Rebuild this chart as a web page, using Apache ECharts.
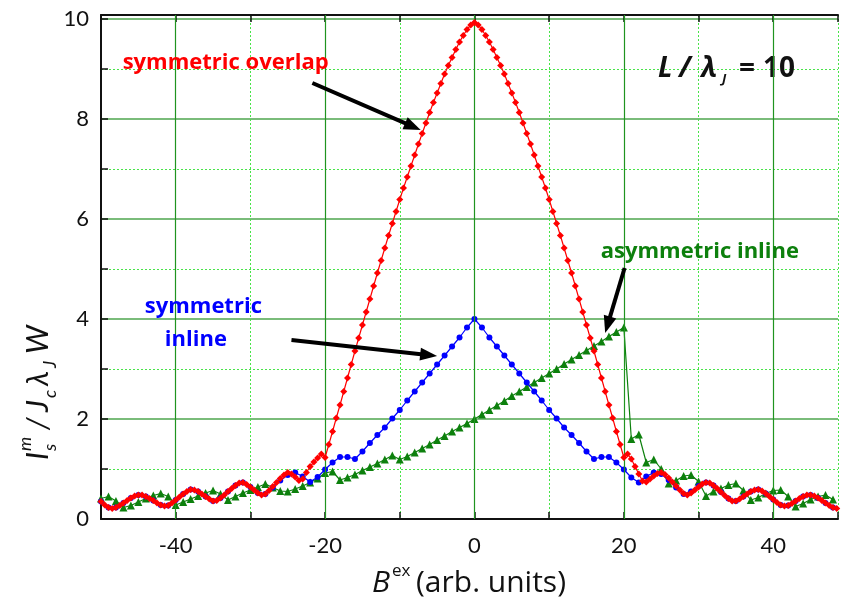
<!DOCTYPE html>
<html>
<head>
<meta charset="utf-8">
<script src="https://cdn.jsdelivr.net/npm/echarts@6/dist/echarts.min.js"></script>
<style>
  html, body { margin: 0; padding: 0; background: #fff; }
  #chart { width: 841px; height: 601px; }
</style>
</head>
<body>
<div id="chart"></div>
<script>
// x sampling of each curve
const redX0 = -50, redStep = 0.5;   // symmetric overlap
const dotX0 = -50, dotStep = 1;     // symmetric inline / asymmetric inline

// symmetric overlap, x = -50 ... 48.5
const redY = [
  0.35, 0.28, 0.23, 0.21, 0.23, 0.27, 0.32, 0.37, 0.42, 0.46,
  0.48, 0.48, 0.45, 0.41, 0.37, 0.32, 0.28, 0.26, 0.27, 0.32,
  0.38, 0.44, 0.50, 0.55, 0.59, 0.58, 0.55, 0.50, 0.45, 0.40,
  0.36, 0.37, 0.42, 0.48, 0.55, 0.61, 0.67, 0.72, 0.73, 0.69,
  0.64, 0.58, 0.52, 0.48, 0.50, 0.57, 0.65, 0.73, 0.81, 0.88,
  0.93, 0.90, 0.84, 0.77, 0.80, 0.93, 1.05, 1.14, 1.22, 1.30,
  1.23, 1.49, 1.75, 2.02, 2.28, 2.55, 2.82, 3.09, 3.36, 3.62,
  3.88, 4.14, 4.40, 4.66, 4.92, 5.17, 5.42, 5.67, 5.91, 6.15,
  6.39, 6.62, 6.84, 7.06, 7.28, 7.50, 7.71, 7.92, 8.13, 8.33,
  8.52, 8.71, 8.90, 9.07, 9.23, 9.39, 9.54, 9.67, 9.79, 9.88,
  9.93,
  9.88, 9.79, 9.67, 9.54, 9.39, 9.23, 9.07, 8.90, 8.71, 8.52,
  8.33, 8.13, 7.92, 7.71, 7.50, 7.28, 7.06, 6.84, 6.62, 6.39,
  6.15, 5.91, 5.67, 5.42, 5.17, 4.92, 4.66, 4.40, 4.14, 3.88,
  3.62, 3.36, 3.09, 2.82, 2.55, 2.28, 2.02, 1.75, 1.49, 1.23,
  1.30, 1.20, 1.05, 0.90, 0.76, 0.74, 0.80, 0.86, 0.91, 0.93,
  0.89, 0.82, 0.74, 0.66, 0.58, 0.51, 0.48, 0.52, 0.58, 0.64,
  0.70, 0.73, 0.72, 0.67, 0.61, 0.54, 0.47, 0.41, 0.36, 0.36,
  0.40, 0.45, 0.50, 0.55, 0.58, 0.59, 0.56, 0.51, 0.45, 0.39,
  0.33, 0.28, 0.26, 0.27, 0.31, 0.36, 0.41, 0.45, 0.48, 0.48,
  0.46, 0.42, 0.37, 0.32, 0.27, 0.23, 0.21
];

// symmetric inline, x = -50 ... 48
const blueY = [
  0.35, 0.23, 0.23, 0.32, 0.42, 0.48, 0.45, 0.37, 0.28, 0.27,
  0.38, 0.50, 0.59, 0.55, 0.45, 0.36, 0.42, 0.55, 0.67, 0.73,
  0.64, 0.52, 0.50, 0.63, 0.77, 0.88, 0.93, 0.85, 0.74, 0.84,
  0.99, 1.13, 1.24, 1.24, 1.20, 1.35, 1.52, 1.68, 1.83, 2.01,
  2.18, 2.37, 2.55, 2.73, 2.91, 3.09, 3.27, 3.45, 3.63, 3.83,
  4.00,
  3.83, 3.63, 3.45, 3.27, 3.09, 2.91, 2.73, 2.55, 2.37, 2.18,
  2.01, 1.83, 1.68, 1.52, 1.35, 1.20, 1.24, 1.24, 1.13, 0.99,
  0.83, 0.73, 0.85, 0.93, 0.90, 0.78, 0.63, 0.50, 0.55, 0.66,
  0.73, 0.67, 0.54, 0.41, 0.36, 0.45, 0.55, 0.59, 0.51, 0.39,
  0.28, 0.27, 0.36, 0.45, 0.48, 0.42, 0.32, 0.23
];

// asymmetric inline, x = -50 ... 48
const greenY = [
  0.41, 0.45, 0.36, 0.23, 0.27, 0.34, 0.41, 0.47, 0.51, 0.45,
  0.28, 0.34, 0.40, 0.46, 0.52, 0.57, 0.50, 0.38, 0.45, 0.52,
  0.58, 0.64, 0.70, 0.63, 0.56, 0.55, 0.60, 0.66, 0.73, 0.81,
  0.92, 0.95, 0.78, 0.83, 0.89, 0.97, 1.04, 1.11, 1.19, 1.27,
  1.19, 1.25, 1.33, 1.41, 1.49, 1.58, 1.66, 1.75, 1.83, 1.91,
  2.00,
  2.09, 2.18, 2.27, 2.36, 2.46, 2.55, 2.64, 2.73, 2.82, 2.91,
  3.00, 3.10, 3.19, 3.28, 3.37, 3.46, 3.55, 3.65, 3.74, 3.83,
  1.60, 1.69, 1.13, 1.19, 1.00, 0.71, 0.77, 0.86, 0.88, 0.75,
  0.46, 0.55, 0.61, 0.68, 0.71, 0.57, 0.38, 0.43, 0.51, 0.57,
  0.58, 0.45, 0.25, 0.31, 0.39, 0.45, 0.48, 0.39
];

const xMajorTicks = [-40, -20, 0, 20, 40];

const FONT = 'Lato';
const NOTE_FONT = "'Open Sans'";
const toPairs = (x0, step, ys) => ys.map((y, i) => [x0 + i * step, y]);

const minorGrid = { color: '#48e448', type: [2, 2], width: 1 };

const chart = echarts.init(document.getElementById('chart'));

const option = {
  animation: false,
  backgroundColor: '#fff',
  grid: { left: 101, top: 15, right: 0, bottom: 82 },
  xAxis: [
    {
      type: 'value',
      min: -50,
      max: 48.67,
      interval: 10,
      position: 'bottom',
      axisLine: { onZero: false, lineStyle: { color: '#111', width: 2 } },
      axisTick: { inside: true, length: 7, lineStyle: { color: '#111', width: 1.5 } },
      axisLabel: {
        formatter: (v) => (v % 20 === 0 ? String(v) : ''),
        fontSize: 22, color: '#111', fontFamily: FONT, margin: 16
      },
      splitLine: { show: true, lineStyle: minorGrid }
    },
    {
      type: 'value',
      min: -50,
      max: 48.67,
      interval: 10,
      position: 'top',
      axisLine: { onZero: false, lineStyle: { color: '#111', width: 2 } },
      axisTick: { inside: true, length: 7, lineStyle: { color: '#111', width: 1.5 } },
      axisLabel: { show: false },
      splitLine: { show: false }
    }
  ],
  yAxis: {
    type: 'value',
    min: 0,
    max: 10.08,
    interval: 2,
    axisLine: { show: true, onZero: false, lineStyle: { color: '#111', width: 2 } },
    axisTick: { show: true, inside: true, length: 7, lineStyle: { color: '#111', width: 1.5 } },
    minorTick: { show: true, splitNumber: 2, length: 7, lineStyle: { color: '#111', width: 1.5 } },
    axisLabel: { fontSize: 22, color: '#111', fontFamily: FONT, margin: 12 },
    splitLine: { show: true, lineStyle: { color: '#4ea64e', width: 1.5 } },
    minorSplitLine: { show: true, lineStyle: minorGrid }
  },
  series: [
    {
      // solid major grid on the x axis
      type: 'line',
      data: [],
      z: 1,
      silent: true,
      markLine: {
        silent: true,
        symbol: 'none',
        label: { show: false },
        lineStyle: { color: '#209420', type: 'solid', width: 1.2 },
        data: xMajorTicks.map((v) => ({ xAxis: v }))
      }
    },
    {
      name: 'asymmetric inline',
      type: 'line',
      z: 3,
      data: toPairs(dotX0, dotStep, greenY),
      symbol: 'triangle',
      symbolSize: 8,
      itemStyle: { color: '#0d800d' },
      lineStyle: { color: '#0d800d', width: 1.2 }
    },
    {
      name: 'symmetric inline',
      type: 'line',
      z: 4,
      data: toPairs(dotX0, dotStep, blueY),
      symbol: 'circle',
      symbolSize: 6,
      itemStyle: { color: '#0000ff' },
      lineStyle: { color: '#0000ff', width: 1.2 }
    },
    {
      name: 'symmetric overlap',
      type: 'line',
      z: 5,
      data: toPairs(redX0, redStep, redY),
      symbol: 'diamond',
      symbolSize: 7,
      itemStyle: { color: '#ff0000' },
      lineStyle: { color: '#ff0000', width: 1.2 }
    }
  ]
};

chart.setOption(option);

// annotations placed from data coordinates
const px = (x, y) => chart.convertToPixel({ gridIndex: 0 }, [x, y]);

function arrow(from, to) {
  const a = px(from[0], from[1]);
  const b = px(to[0], to[1]);
  const dx = b[0] - a[0], dy = b[1] - a[1];
  const len = Math.sqrt(dx * dx + dy * dy);
  const ux = dx / len, uy = dy / len;
  const head = 17, half = 6.5;
  const bx = b[0] - ux * head, by = b[1] - uy * head;
  return [
    {
      type: 'line', z: 50,
      shape: { x1: a[0], y1: a[1], x2: bx + ux * 3, y2: by + uy * 3 },
      style: { stroke: '#000', lineWidth: 4 }
    },
    {
      type: 'polygon', z: 50,
      shape: { points: [[b[0], b[1]], [bx - uy * half, by + ux * half], [bx + uy * half, by - ux * half]] },
      style: { fill: '#000' }
    }
  ];
}

function label(x, y, text, color, size, align) {
  const p = px(x, y);
  return {
    type: 'text', z: 60, x: p[0], y: p[1],
    style: {
      text: text, fill: color, font: 'bold ' + size + 'px ' + NOTE_FONT,
      align: align, verticalAlign: 'middle'
    }
  };
}

const piece = (t, x, y, font) => ({
  type: 'text', x: x, y: y,
  style: { text: t, fill: '#111', font: font, verticalAlign: 'middle' }
});

const graphic = [].concat(
  arrow([-21.7, 8.72], [-7.2, 7.78]),
  arrow([-24.5, 3.58], [-5.0, 3.26]),
  arrow([20.1, 5.02], [17.5, 3.72]),
  [
    label(-47.1, 9.12, 'symmetric overlap', '#ff0000', 22, 'left'),
    label(-36.3, 4.24, 'symmetric', '#0000ff', 22, 'center'),
    label(-37.3, 3.58, 'inline', '#0000ff', 22, 'center'),
    label(16.9, 5.34, 'asymmetric inline', '#0d800d', 22, 'left'),
    // L / lambda_J = 10
    {
      type: 'group', z: 60, x: 658, y: 69,
      children: [
        piece('L', 0, 0, 'italic bold 28px ' + NOTE_FONT),
        piece('/', 21, 0, 'italic bold 28px ' + NOTE_FONT),
        piece('λ', 43, 0, 'italic bold 28px ' + NOTE_FONT),
        piece('J', 64, 10, 'italic bold 13px ' + NOTE_FONT),
        piece('=', 81, 0, 'bold 28px ' + NOTE_FONT),
        piece('10', 105, 0, 'bold 28px ' + NOTE_FONT)
      ]
    },
    // y axis title, rotated
    {
      type: 'group', x: 38, y: 380, rotation: Math.PI / 2,
      children: [
        piece('I', -80, 0, 'italic 30px ' + FONT),
        piece('m', -71, -13, 'italic 18px ' + FONT),
        piece('s', -71, 12, 'italic 18px ' + FONT),
        piece('/', -50, 0, 'italic 30px ' + FONT),
        piece('J', -32, 0, 'italic 30px ' + FONT),
        piece('c', -18, 12, 'italic 18px ' + FONT),
        piece('λ', -6, 0, 'italic 30px ' + FONT),
        piece('J', 12, 12, 'italic 18px ' + FONT),
        piece('W', 26, 0, 'italic 30px ' + FONT)
      ]
    },
    // x axis title
    {
      type: 'group', x: 372, y: 583,
      children: [
        piece('B', 0, 0, 'italic 30px ' + NOTE_FONT),
        piece('ex', 20, -12, '17px ' + NOTE_FONT),
        piece('(arb. units)', 44, 0, '30px ' + NOTE_FONT)
      ]
    }
  ]
);

chart.setOption({ graphic: graphic });
</script>
</body>
</html>
